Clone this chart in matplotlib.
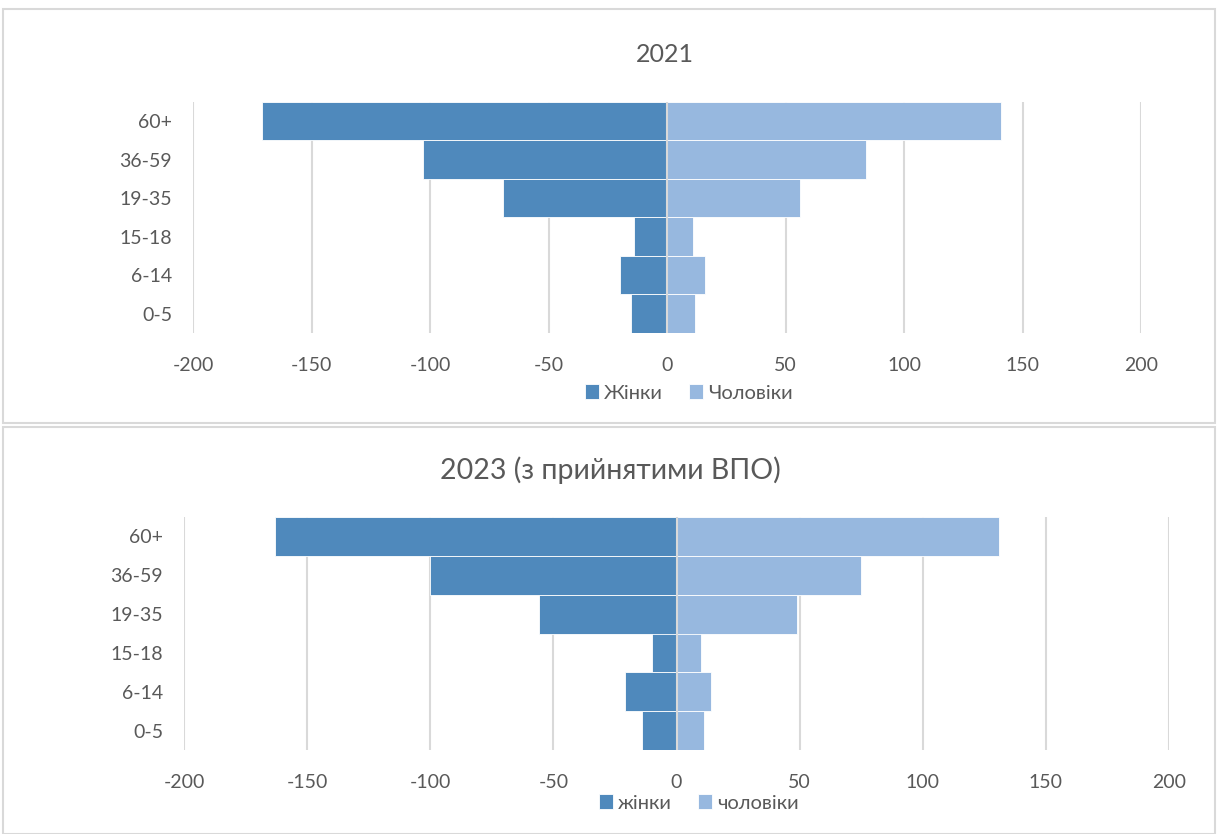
import matplotlib
matplotlib.use('Agg')
import matplotlib.pyplot as plt
from matplotlib.patches import Rectangle

# age groups, bottom to top
ages = ['0-5', '6-14', '15-18', '19-35', '36-59', '60+']

# 2021
women_2021 = [-15, -20, -14, -69, -103, -171]
men_2021 = [12, 16, 11, 56, 84, 141]

# 2023 (with IDPs)
women_2023 = [-14, -21, -10, -56, -100, -163]
men_2023 = [11, 14, 10, 49, 75, 131]

ticks = [-200, -150, -100, -50, 0, 50, 100, 150, 200]

dark = '#4f89bc'
light = '#97b8df'
txt = '#595959'
grid = '#d9d9d9'

plt.rcParams['font.family'] = ['Lato', 'DejaVu Sans']

fig = plt.figure(figsize=(12.18, 8.34), dpi=100)

# panel borders
fig.add_artist(Rectangle((3 / 1218, 1 - 423 / 834), 1212 / 1218, 414 / 834,
                         transform=fig.transFigure, fill=False, edgecolor=grid, lw=1.5))
fig.add_artist(Rectangle((3 / 1218, 0.0), 1212 / 1218, 1 - 427 / 834,
                         transform=fig.transFigure, fill=False, edgecolor=grid, lw=1.5))


def pyramid(rect, women, men, title, title_xy, title_size, labels, leg_xy):
    ax = fig.add_axes(rect)
    y = range(len(ages))
    b1 = ax.barh(y, women, height=1.0, color=dark, edgecolor='white', lw=0.6, label=labels[0], zorder=2)
    b2 = ax.barh(y, men, height=1.0, color=light, edgecolor='white', lw=0.6, label=labels[1], zorder=2)
    ax.axvline(0, color=grid, lw=1.5, zorder=3)
    ax.set_xlim(-200, 200)
    ax.set_ylim(-0.5, len(ages) - 0.5)
    ax.set_xticks(ticks)
    ax.set_xticklabels([str(t) for t in ticks])
    ax.set_yticks(list(y))
    ax.set_yticklabels(ages)
    ax.grid(axis='x', color=grid, lw=1.5, zorder=0)
    ax.set_axisbelow(True)
    for s in ax.spines.values():
        s.set_visible(False)
    ax.tick_params(axis='x', length=0, pad=17, labelsize=14, labelcolor=txt)
    ax.tick_params(axis='y', length=0, pad=15, labelsize=14, labelcolor=txt)
    fig.text(title_xy[0] / 1218, 1 - title_xy[1] / 834, title, ha='center', va='center',
             fontsize=title_size, color=txt)
    fig.legend(handles=[b1, b2], loc='center', ncol=2, frameon=False,
               bbox_to_anchor=(leg_xy[0] / 1218, 1 - leg_xy[1] / 834),
               fontsize=14.5, labelcolor=txt, handlelength=0.7, handleheight=0.7,
               handletextpad=0.25, columnspacing=1.3)
    return ax


pyramid([193 / 1218, 1 - 333 / 834, 948 / 1218, 231 / 834], women_2021, men_2021,
        '2021', (665, 55), 18, ['Жінки', 'Чоловіки'], (689, 393))
pyramid([184 / 1218, 1 - 750 / 834, 985 / 1218, 233 / 834], women_2023, men_2023,
        '2023 (з прийнятими ВПО)', (610, 470), 20.5, ['жінки', 'чоловіки'], (699, 803))

fig.savefig('out.png', dpi=100)
